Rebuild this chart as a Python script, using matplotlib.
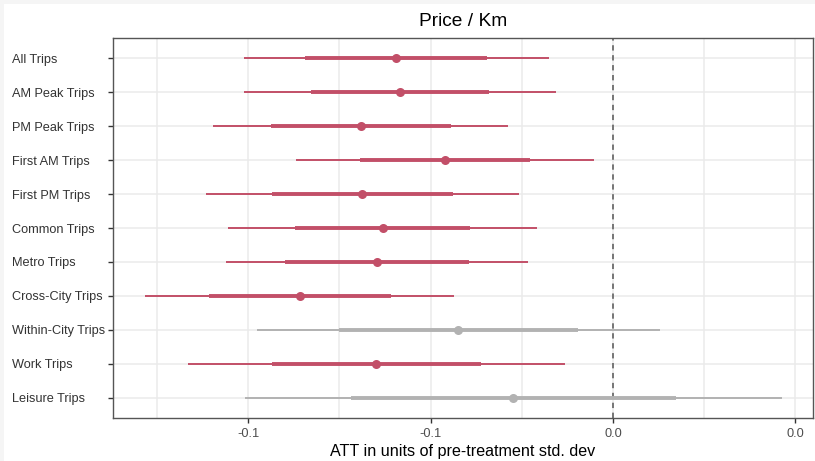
import matplotlib
matplotlib.use("Agg")
import matplotlib.pyplot as plt
from matplotlib.patches import Rectangle

# Estimates per outcome (ATT in units of pre-treatment std. dev)
outcomes = ["All Trips", "AM Peak Trips", "PM Peak Trips", "First AM Trips",
            "First PM Trips", "Common Trips", "Metro Trips", "Cross-City Trips",
            "Within-City Trips", "Work Trips", "Leisure Trips"]
estimate = [-0.0595, -0.0584, -0.0691, -0.0460, -0.0687, -0.0631,
            -0.0647, -0.0858, -0.0424, -0.0649, -0.0273]
ci90_low = [-0.0844, -0.0828, -0.0938, -0.0693, -0.0935, -0.0870,
            -0.0900, -0.1108, -0.0750, -0.0935, -0.0718]
ci90_high = [-0.0346, -0.0340, -0.0445, -0.0227, -0.0439, -0.0392,
             -0.0395, -0.0609, -0.0096, -0.0362, 0.0173]
ci95_low = [-0.1011, -0.1012, -0.1096, -0.0868, -0.1116, -0.1055,
            -0.1060, -0.1282, -0.0975, -0.1164, -0.1007]
ci95_high = [-0.0175, -0.0156, -0.0287, -0.0053, -0.0258, -0.0207,
             -0.0233, -0.0435, 0.0129, -0.0132, 0.0463]
significant = [True, True, True, True, True, True, True, True, False, True, False]

x_ticks = [-0.10, -0.05, 0.00, 0.05]
x_tick_labels = ["-0.1", "-0.1", "0.0", "0.0"]
x_minor = [-0.125, -0.075, -0.025, 0.025]

RED = "#C24F68"
GREY = "#B2B2B2"

plt.rcParams["font.family"] = ["Liberation Sans", "DejaVu Sans"]

fig = plt.figure(figsize=(8.15, 4.61), dpi=100)
fig.patch.set_facecolor("#F5F5F5")
fig.patches.append(Rectangle((4 / 815, 0), 1, 1 - 4 / 461, transform=fig.transFigure,
                             facecolor="white", edgecolor="none", zorder=-10))

ax = fig.add_axes([113 / 815, 1 - 418 / 461, 700 / 815, (418 - 38) / 461])
ax.set_facecolor("white")

n = len(outcomes)
ypos = list(range(n, 0, -1))

for y, est, l90, h90, l95, h95, sig in zip(ypos, estimate, ci90_low, ci90_high,
                                           ci95_low, ci95_high, significant):
    c = RED if sig else GREY
    ax.plot([l95, h95], [y, y], color=c, lw=1.4, solid_capstyle="butt", zorder=3)
    ax.plot([l90, h90], [y, y], color=c, lw=2.8, solid_capstyle="butt", zorder=4)
    ax.plot([est], [y], "o", color=c, ms=6.5, mec="none", zorder=5)

ax.axvline(0, color="#555555", lw=1.1, ls=(0, (3.5, 3)), zorder=2)

ax.set_xlim(-0.137, 0.0548)
ax.set_ylim(0.4, n + 0.6)
ax.set_yticks(ypos)
ax.set_yticklabels(outcomes, fontsize=9.2, color="#333333", ha="left")
ax.set_xticks(x_ticks)
ax.set_xticklabels(x_tick_labels, fontsize=9.2, color="#4D4D4D")
ax.set_xticks(x_minor, minor=True)

ax.tick_params(axis="both", which="major", length=3.5, width=1.0, color="#333333")
ax.yaxis.set_tick_params(pad=69)
ax.tick_params(axis="x", which="minor", length=0)

ax.grid(True, which="major", color="#EBEBEB", lw=1.1, zorder=0)
ax.grid(True, which="minor", axis="x", color="#EBEBEB", lw=1.1, zorder=0)
ax.set_axisbelow(True)

for sp in ax.spines.values():
    sp.set_color("#555555")
    sp.set_linewidth(1.0)

ax.set_title("Price / Km", fontsize=13.8, color="black", pad=9)
ax.set_xlabel("ATT in units of pre-treatment std. dev", fontsize=11.6, color="black", labelpad=3)

fig.savefig("out.png", dpi=100, facecolor=fig.get_facecolor())
